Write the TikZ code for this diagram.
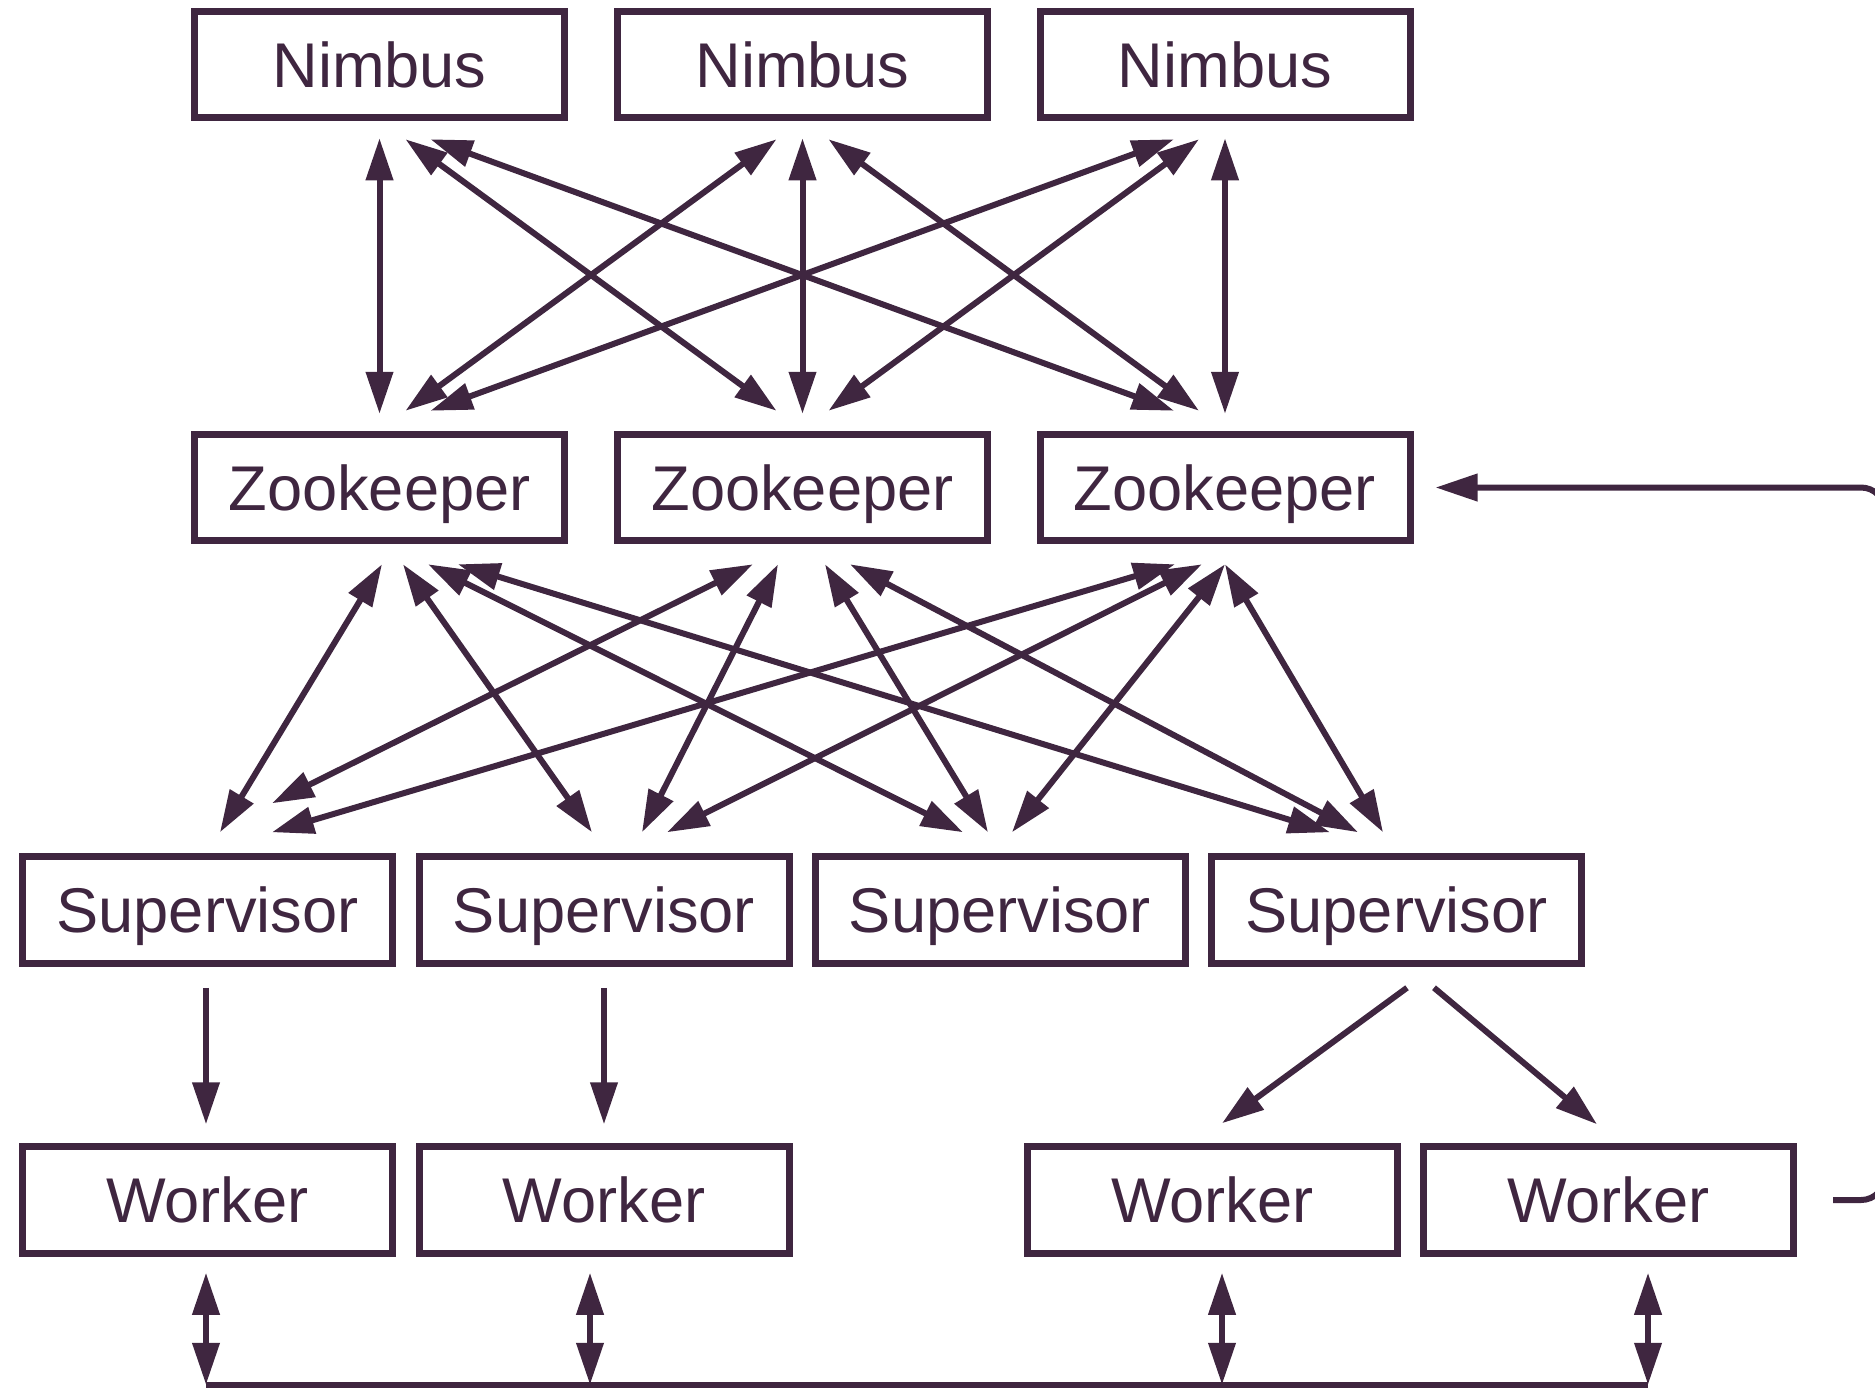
\documentclass[tikz,border=0pt]{standalone}
\usepackage{fontspec}
\setmainfont{Liberation Sans}
\usetikzlibrary{arrows.meta,calc}
\definecolor{dp}{RGB}{63,38,64}
\tikzset{
  box/.style={draw=dp, line width=3.5pt, minimum width=185pt, minimum height=53.25pt,
    inner sep=0pt, text=dp, font=\fontsize{31.6pt}{36pt}\selectfont, text height=22.6pt, text depth=0pt},
  link/.style={draw=dp, line width=3pt},
  dbl/.style={link, {Triangle[length=21pt,width=13.2pt]}-{Triangle[length=21pt,width=13.2pt]}},
  one/.style={link, -{Triangle[length=21pt,width=13.2pt]}},
}
\begin{document}
\begin{tikzpicture}[x=0.5pt,y=-0.5pt]
\useasboundingbox (0,0) rectangle (1875,1389);
\clip (0,0) rectangle (1875,1389);
% nodes
\node[box] (N1) at (379.5,64.5) {Nimbus};
\node[box] (N2) at (802.5,64.5) {Nimbus};
\node[box] (N3) at (1225,64.5) {Nimbus};
\node[box] (Z1) at (379.5,487.5) {Zookeeper};
\node[box] (Z2) at (802.5,487.5) {Zookeeper};
\node[box] (Z3) at (1225,487.5) {Zookeeper};
\node[box] (S1) at (207.5,910) {Supervisor};
\node[box] (S2) at (604,910) {Supervisor};
\node[box] (S3) at (1000,910) {Supervisor};
\node[box] (S4) at (1396.5,910) {Supervisor};
\node[box] (W1) at (207.5,1200) {Worker};
\node[box] (W2) at (604,1200) {Worker};
\node[box] (W3) at (1212.5,1200) {Worker};
\node[box] (W4) at (1608.5,1200) {Worker};
% Nimbus - Zookeeper
\draw[dbl] ($(N1.south)+(0,17)$) -- ($(Z1.north)+(0,-17)$);
\draw[dbl] ($(N1.south)+(26,18)$) -- ($(Z2.north)+(-26,-20)$);
\draw[dbl] ($(N1.south)+(51,18)$) -- ($(Z3.north)+(-51,-20)$);
\draw[dbl] ($(N2.south)+(-26,18)$) -- ($(Z1.north)+(26,-20)$);
\draw[dbl] ($(N2.south)+(0,17)$) -- ($(Z2.north)+(0,-17)$);
\draw[dbl] ($(N2.south)+(26,18)$) -- ($(Z3.north)+(-26,-20)$);
\draw[dbl] ($(N3.south)+(-51,18)$) -- ($(Z1.north)+(51,-20)$);
\draw[dbl] ($(N3.south)+(-26,18)$) -- ($(Z2.north)+(26,-20)$);
\draw[dbl] ($(N3.south)+(0,17)$) -- ($(Z3.north)+(0,-17)$);
% Zookeeper - Supervisor
\draw[dbl] ($(Z1.south)+(2.5,20)$) -- ($(S1.north)+(12.5,-21)$);
\draw[dbl] ($(Z1.south)+(23.5,20)$) -- ($(S2.north)+(-12,-21)$);
\draw[dbl] ($(Z1.south)+(48.5,20)$) -- ($(S3.north)+(-37,-21)$);
\draw[dbl] ($(Z1.south)+(78.5,20)$) -- ($(S4.north)+(-66.5,-21)$);
\draw[dbl] ($(Z2.south)+(-49.5,20)$) -- ($(S1.north)+(64.5,-50)$);
\draw[dbl] ($(Z2.south)+(-24.5,20)$) -- ($(S2.north)+(38,-21)$);
\draw[dbl] ($(Z2.south)+(22.5,20)$) -- ($(S3.north)+(-12,-21)$);
\draw[dbl] ($(Z2.south)+(47.5,20)$) -- ($(S4.north)+(-38.5,-21)$);
\draw[dbl] ($(Z3.south)+(-50,20)$) -- ($(S1.north)+(64.5,-21)$);
\draw[dbl] ($(Z3.south)+(-23,20)$) -- ($(S2.north)+(63,-21)$);
\draw[dbl] ($(Z3.south)+(0,20)$) -- ($(S3.north)+(12,-21)$);
\draw[dbl] ($(Z3.south)+(0,20)$) -- ($(S4.north)+(-13.5,-21)$);
% Supervisor - Worker
\draw[one] ($(S1.south)+(-1.5,21)$) -- ($(W1.north)+(-1.5,-19)$);
\draw[one] ($(S2.south)+(0,21)$) -- ($(W2.north)+(0,-19)$);
\draw[one] ($(S4.south)+(10.5,21)$) -- ($(W3.north)+(9.5,-20)$);
\draw[one] ($(S4.south)+(37.5,21)$) -- ($(W4.north)+(-11.5,-19)$);
% bus
\coordinate (b1) at ($(W1.south)+(-1.5,128)$);
\coordinate (b2) at ($(W2.south)+(-14,128)$);
\coordinate (b3) at ($(W3.south)+(9.5,128)$);
\coordinate (b4) at ($(W4.south)+(39.5,128)$);
\draw[link] (b1) -- (b4);
\draw[dbl] ($(W1.south)+(-1.5,16)$) -- (b1);
\draw[dbl] ($(W2.south)+(-14,16)$) -- (b2);
\draw[dbl] ($(W3.south)+(9.5,16)$) -- (b3);
\draw[dbl] ($(W4.south)+(39.5,16)$) -- (b4);
% feedback to zookeeper
\coordinate (r1) at ($(W4.east)+(36,0)$);
\coordinate (r2) at ($(r1)+(52,0)$);
\draw[one, rounded corners=12pt] (r1) -- (r2) |- ($(Z3.east)+(22,0)$);
\end{tikzpicture}
\end{document}
